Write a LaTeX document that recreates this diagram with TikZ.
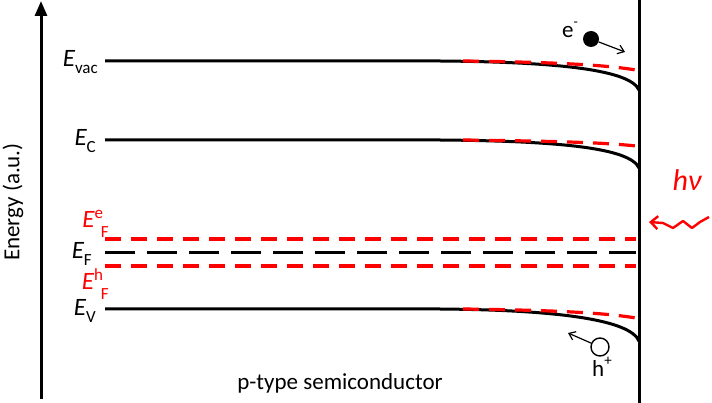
\documentclass[tikz,border=0pt]{standalone}
\usepackage{fontspec}
\setmainfont{Carlito}
\usetikzlibrary{arrows.meta}
\begin{document}
\begin{tikzpicture}[x=1pt,y=-1pt,
  band/.style={line width=3pt},
  redband/.style={red, line width=3.2pt, dash pattern=on 16pt off 10pt},
  fermi/.style={line width=3pt, dash pattern=on 30pt off 12pt},
  lab/.style={font=\fontsize{25}{25}\selectfont, anchor=east, inner sep=0pt},
  redlab/.style={lab, text=red},
  txt/.style={font=\fontsize{23}{23}\selectfont, inner sep=0pt},
  sub/.style={},
]
\useasboundingbox (0,0) rectangle (712,403);
% axis
\coordinate (axb) at (41,399);
\coordinate (axt) at (41,1);
\draw[line width=3pt,-{Triangle[length=15pt,width=12pt]}] (axb) -- (axt);
\node[txt, rotate=90] (energy) at (13,202) {Energy (a.u.)};
% surface
\coordinate (st) at (639,0);
\coordinate (sb) at (639,403);
\draw[line width=3pt] (st) -- (sb);
% bands
\coordinate (vacL) at (105,61);
\coordinate (vacR) at (639,90);
\draw[band] (vacL) -- (440,61) .. controls (560,62) and (630,70) .. (vacR);
\draw[redband] (463,61) .. controls (540,62) and (600,64) .. (636,70);
\coordinate (cL) at (105,140);
\coordinate (cR) at (639,168);
\draw[band] (cL) -- (440,140) .. controls (560,141) and (630,148) .. (cR);
\draw[redband] (463,140) .. controls (540,141) and (600,142) .. (636,146);
\coordinate (vL) at (105,309);
\coordinate (vR) at (639,341);
\draw[band] (vL) -- (440,309) .. controls (560,310) and (630,320) .. (vR);
\draw[redband] (463,309) .. controls (540,310) and (600,312) .. (636,318);
% Fermi levels
\coordinate (feL) at (105,239); \coordinate (feR) at (636,239);
\coordinate (fL) at (105,253);  \coordinate (fR) at (636,253);
\coordinate (fhL) at (105,266); \coordinate (fhR) at (636,266);
\draw[redband] (feL) -- (feR);
\draw[fermi] (fL) -- (fR);
\draw[redband] (fhL) -- (fhR);
% labels
\newcommand\sbx[1]{\raisebox{-0.3em}{\normalfont\fontsize{17}{17}\selectfont #1}}
\newcommand\spx[1]{\raisebox{0.35em}{\normalfont\fontsize{17}{17}\selectfont #1}}
\newcommand\sfx[1]{\raisebox{-0.4em}{\normalfont\fontsize{17}{17}\selectfont #1}}
\node[lab] (lvac) at (98,62) {\itshape E\sbx{vac}};
\node[lab] (lc) at (96,141) {\itshape E\sbx{C}};
\node[redlab] (le) at (109,224) {\itshape E\spx{e}\kern-2pt\sfx{F}};
\node[lab] (lf) at (92,254) {\itshape E\sbx{F}};
\node[redlab] (lh) at (109,284) {\itshape E\spx{h}\kern-2pt\sfx{F}};
\node[lab] (lv) at (96,311) {\itshape E\sbx{V}};
% electron
\node[circle, fill=black, inner sep=0pt, minimum size=16pt] (el) at (591,39) {};
\coordinate (elto) at (625,52);
\draw[line width=1.2pt, -{Straight Barb[length=6pt,width=9pt]}] (el) -- (elto);
\node[txt] (elab) at (570,30) {e\raisebox{0.45em}{\fontsize{14}{14}\selectfont -}};
% hole
\node[circle, draw=black, line width=1.4pt, fill=white, inner sep=0pt, minimum size=18pt] (ho) at (600,347) {};
\coordinate (hoto) at (568,333);
\draw[line width=1.2pt, -{Straight Barb[length=6pt,width=9pt]}] (ho) -- (hoto);
\node[txt] (hlab) at (602,367) {h\raisebox{0.45em}{\fontsize{15}{15}\selectfont +}};
% photon
\node[txt, text=red, font=\fontsize{30}{30}\selectfont\itshape] (hv) at (687,180) {hν};
\coordinate (ph0) at (709,217);
\coordinate (ph1) at (700,222);
\coordinate (ph2) at (692,228);
\coordinate (ph3) at (683,221);
\coordinate (ph4) at (673,228);
\coordinate (ph5) at (663,223);
\coordinate (phend) at (649,222);
\draw[red, line width=2.4pt, line join=round, -{Straight Barb[length=7pt,width=13pt]}]
  (ph0) -- (ph1) -- (ph2) -- (ph3) -- (ph4) -- (ph5) -- (phend);
% caption
\node[txt] (cap) at (340,383) {p-type semiconductor};
\end{tikzpicture}
\end{document}
